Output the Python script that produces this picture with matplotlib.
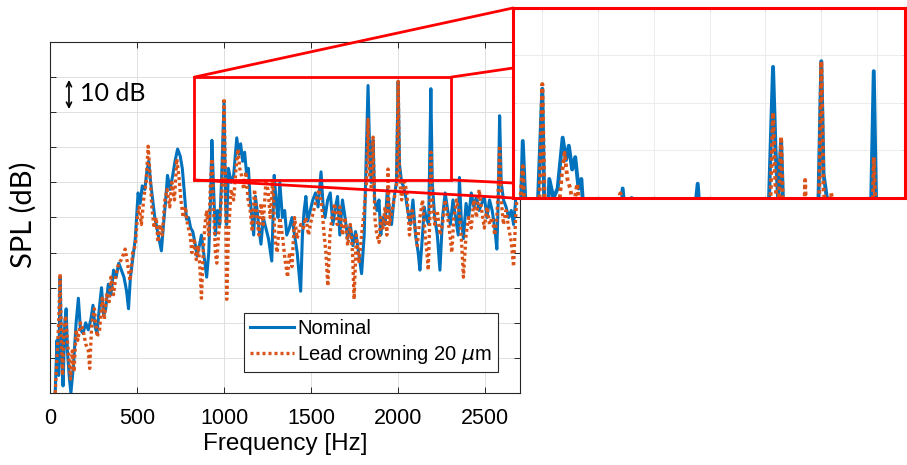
import matplotlib
matplotlib.use("Agg")
import matplotlib.pyplot as plt
from matplotlib.patches import Rectangle, ConnectionPatch

# nominal gear (blue): frequency [Hz], SPL [dB]
nom_f = [30, 40, 50, 58, 66, 75, 85, 93, 100, 110, 120, 135, 150, 163, 175, 190, 205, 220, 235, 247,
         258, 270, 283, 296, 308, 320, 335, 350, 365, 380, 395, 410, 425, 440, 451, 462, 475, 490, 506, 518,
         530, 545, 556, 567, 578, 590, 602, 614, 626, 640, 652, 663, 675, 690, 705, 718, 733, 748, 760, 772,
         784, 796, 808, 820, 832, 845, 858, 870, 885, 900, 912, 922, 930, 940, 950, 962, 975, 985, 1000, 1008,
         1015, 1025, 1040, 1055, 1073, 1085, 1095, 1107, 1118, 1130, 1140, 1150, 1160, 1170, 1180, 1190, 1200, 1212, 1225, 1240,
         1255, 1274, 1288, 1300, 1310, 1320, 1335, 1348, 1360, 1375, 1390, 1405, 1420, 1440, 1450, 1460, 1470, 1480, 1495, 1510,
         1525, 1540, 1557, 1568, 1580, 1595, 1610, 1625, 1640, 1652, 1665, 1680, 1695, 1710, 1725, 1740, 1755, 1770, 1790, 1805,
         1818, 1827, 1836, 1845, 1856, 1865, 1878, 1890, 1900, 1912, 1925, 1938, 1950, 1962, 1975, 1990, 2000, 2008, 2020, 2030,
         2040, 2055, 2070, 2085, 2100, 2115, 2125, 2140, 2150, 2160, 2175, 2188, 2196, 2210, 2225, 2240, 2255, 2270, 2285, 2300,
         2315, 2330, 2345, 2352, 2362, 2375, 2390, 2405, 2420, 2435, 2450, 2465, 2480, 2495, 2510, 2525, 2540, 2555, 2567, 2575,
         2583, 2592, 2605, 2620, 2635, 2650, 2663, 2675, 2688, 2700]
nom_db = [0, 15, 5, 33, 12, 2, 20, 24, 12, 5, 0, 8, 20, 27, 18, 17, 20, 18, 21, 25,
          19, 17, 24, 30, 22, 24, 31, 28, 35, 33, 37, 35, 33, 29, 24, 33, 38, 44, 57, 54,
          59, 58, 63, 66, 60, 55, 50, 47, 44, 40.5, 48, 54, 62, 58, 62, 66, 69.5, 67.5, 64, 57,
          49.5, 50, 47, 46, 43, 39, 42, 45, 39, 33, 40, 55, 72, 58, 45, 52, 48, 60, 83, 55,
          48, 64, 60, 62, 72.7, 68, 71, 66, 68.6, 62, 64, 55, 50, 45, 56, 52, 47, 42.4, 50, 47,
          44, 37.6, 62, 54, 50, 60, 50, 52, 45, 47, 50, 45, 40, 29, 45, 52, 56, 49, 52, 55,
          57, 53, 63, 54, 50, 55, 57, 48, 53, 56, 45, 55, 50, 44, 48, 42, 46, 41, 34, 45,
          70, 87.6, 70, 60, 72, 55, 52, 55, 45, 50, 48, 58, 52, 48, 55, 60, 88.8, 65, 60, 59,
          57, 52, 48, 55, 45, 40, 35, 45, 53, 50, 48, 86.7, 60, 50, 45, 35, 50, 57, 52, 48,
          55, 50, 45, 61.4, 50, 44, 54, 50, 57, 53, 56, 52, 54, 56, 50, 55, 52, 47, 41, 55,
          79, 60, 55, 53, 50, 52, 48, 55, 71, 72]

# lead crowning 20 um (orange)
lead_f = [30, 40, 50, 58, 65, 72, 80, 90, 100, 108, 118, 128, 138, 150, 160, 175, 190, 205, 220, 228,
          240, 255, 270, 285, 300, 312, 325, 340, 350, 365, 380, 395, 410, 425, 432, 445, 460, 475, 490, 502,
          512, 525, 540, 552, 564, 575, 585, 598, 610, 620, 632, 645, 660, 672, 688, 700, 715, 728, 740, 752,
          765, 778, 790, 805, 815, 828, 840, 852, 862, 870, 880, 890, 900, 912, 922, 930, 940, 950, 958, 968,
          978, 990, 1000, 1008, 1015, 1025, 1040, 1055, 1070, 1080, 1090, 1100, 1112, 1125, 1138, 1150, 1162, 1175, 1188, 1200,
          1212, 1225, 1240, 1252, 1265, 1280, 1292, 1305, 1320, 1335, 1350, 1365, 1375, 1390, 1405, 1420, 1440, 1455, 1470, 1485,
          1500, 1515, 1530, 1545, 1560, 1575, 1585, 1596, 1608, 1620, 1635, 1650, 1665, 1680, 1695, 1710, 1725, 1738, 1747, 1760,
          1775, 1790, 1805, 1818, 1827, 1836, 1847, 1856, 1866, 1878, 1890, 1900, 1912, 1925, 1935, 1942, 1950, 1965, 1980, 1992,
          2000, 2008, 2020, 2035, 2050, 2065, 2080, 2095, 2110, 2125, 2140, 2155, 2165, 2173, 2182, 2188, 2196, 2210, 2225, 2240,
          2255, 2270, 2285, 2300, 2308, 2320, 2335, 2350, 2362, 2375, 2390, 2405, 2420, 2435, 2450, 2465, 2480, 2495, 2510, 2525,
          2540, 2555, 2567, 2575, 2583, 2592, 2605, 2620, 2635, 2650, 2663, 2675, 2688, 2700]
lead_db = [0, 10, 20, 34, 15, 5, 18, 22, 15, 10, 4, 12, 6, 18, 15, 20, 18, 14, 12, 7,
           20, 24, 16, 18, 27, 21, 28, 26, 33, 28, 34, 37, 38, 40, 41, 37, 32, 40, 42, 50,
           53, 48, 56, 60, 70.3, 62, 53, 47, 50, 43, 48, 45, 55, 58, 53, 60, 55, 66.7, 62, 55,
           50, 53, 48, 45, 40, 44, 38, 42, 35, 27, 40, 48, 52, 45, 60, 66.7, 52, 40, 37, 45,
           50, 60, 84, 60, 26.7, 45, 58, 55, 65, 69.5, 64, 62, 58, 63, 55, 52, 46, 58, 50, 45,
           54, 48, 60, 58, 50, 61, 44, 40, 50, 45, 38, 33, 40, 36, 50, 44, 48, 47, 50, 45,
           49, 52, 55, 58, 54, 45, 40, 30.5, 45, 50, 54, 48, 53, 45, 50, 42, 48, 40, 26.7, 45,
           37, 45, 52, 60, 78, 62, 58, 72.9, 50, 45, 42.9, 50, 47, 53, 45, 63.8, 48, 52, 56, 60,
           88.8, 62, 55, 61, 57, 45, 52, 48, 42, 50, 55, 45, 40, 35, 50, 68.6, 55, 48, 52, 45,
           48, 55, 50, 44, 40, 50, 55, 52, 45, 33, 45, 50, 47, 55, 50, 58, 52, 47, 53, 48,
           50, 45, 50, 58, 70.5, 55, 48, 52, 47, 43, 36, 50, 60, 66]

blue = "#0072BD"
orange = "#D95319"
red = "#FF0000"
dotted = (0, (0.9, 0.9))

fig = plt.figure(figsize=(9.07, 4.65), dpi=100)
ax = fig.add_axes([50 / 907, 72 / 465, 470 / 907, 351 / 465])

ax.plot(nom_f, nom_db, color=blue, lw=2.2, label="Nominal")
ax.plot(lead_f, lead_db, color=orange, lw=2.4, linestyle=dotted, label=r"Lead crowning 20 $\mu$m")

ax.set_xlim(0, 2700)
ax.set_ylim(0, 100)
ax.set_xticks(range(0, 2501, 500))
ax.set_yticks(range(0, 101, 10))
ax.set_yticklabels([])
ax.grid(True, color="#e0e0e0", lw=0.7)
ax.set_axisbelow(True)
ax.tick_params(direction="in", top=True, right=True, length=4, width=0.7, color="#262626",
               labelsize=15.5, pad=11)
for lab in ax.get_xticklabels():
    lab.set_fontfamily("Liberation Sans")
for s in ax.spines.values():
    s.set_color("#262626")
    s.set_linewidth(0.8)

ax.set_xlabel("Frequency [Hz]", fontsize=17.5, family="Liberation Sans", labelpad=3)
fig.text(23 / 907, 1 - 215 / 465, "SPL (dB)", rotation=90, fontsize=21, family="Lato",
         ha="center", va="center")

# 10 dB scale arrow
ax.annotate("", xy=(109, 89.2), xytext=(109, 80.9),
            arrowprops=dict(arrowstyle="<->", color="black", lw=1.2, shrinkA=0, shrinkB=0,
                            mutation_scale=9))
ax.text(172, 85.2, "10 dB", fontsize=18, family="Lato", va="center", ha="left")

leg = ax.legend(loc="upper left", bbox_to_anchor=(0.413, 0.228), borderaxespad=0,
                prop={"family": "Liberation Sans", "size": 14.5}, handlelength=2.2,
                handletextpad=0.15, labelspacing=0.25, borderpad=0.3, fancybox=False,
                framealpha=1, edgecolor="#262626")
leg.get_frame().set_linewidth(0.8)

# zoom box on the main axes
box = (830, 60.7, 2305, 90)
ax.add_patch(Rectangle((box[0], box[1]), box[2] - box[0], box[3] - box[1], fill=False,
                       edgecolor=red, lw=2, zorder=5))

# inset
axin = fig.add_axes([513 / 907, 1 - 198 / 465, 392 / 907, 190 / 465])
axin.plot(nom_f, nom_db, color=blue, lw=2.8)
axin.plot(lead_f, lead_db, color=orange, lw=2.8, linestyle=dotted)
axin.set_xlim(895, 2300)
axin.set_ylim(60, 100)
axin.set_xticks(range(1000, 2201, 200))
axin.set_yticks(range(60, 101, 10))
axin.set_xticklabels([])
axin.set_yticklabels([])
axin.grid(True, color="#ececec", lw=0.7)
axin.tick_params(direction="in", top=True, right=True, length=2, width=0.5, color="#cccccc")
for s in axin.spines.values():
    s.set_color(red)
    s.set_linewidth(2.2)

# perspective connectors from the box to the inset
links = [((box[0], box[3]), (0, 1)),
         ((box[2], box[3]), (0, 0.684)),
         ((box[2], box[1]), (0, 0.079)),
         ((box[0], box[1]), (0, 0))]
for pa, pb in links:
    con = ConnectionPatch(xyA=pa, coordsA=ax.transData, xyB=pb, coordsB=axin.transAxes,
                          color=red, lw=2)
    fig.add_artist(con)

fig.savefig("out.png", dpi=100)
